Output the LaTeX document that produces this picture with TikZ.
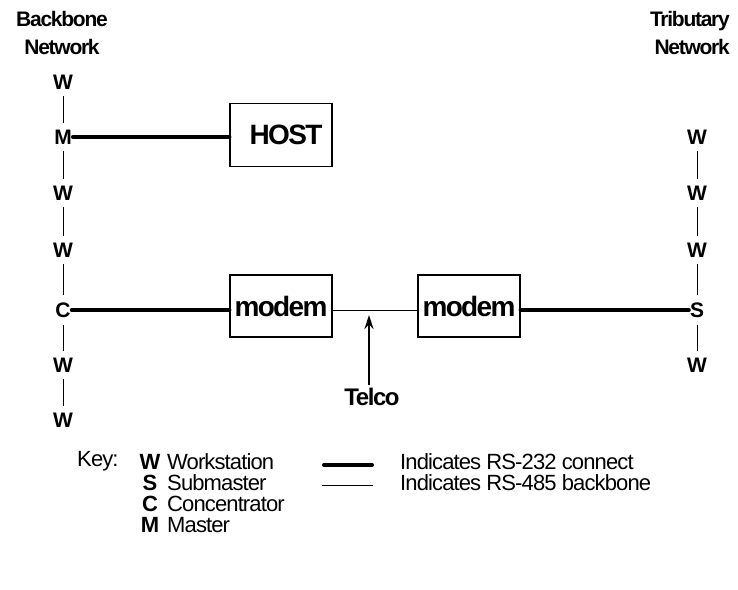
\documentclass[tikz,border=0pt]{standalone}
\usepackage{fontspec}
\setmainfont{Liberation Sans}[LetterSpace=-6]
\usetikzlibrary{arrows.meta}
\begin{document}
\begin{tikzpicture}[x=1pt,y=-1pt,
  lbl/.style={font=\fontsize{21}{21}\selectfont\bfseries,inner sep=1pt},
  head/.style={font=\fontsize{21}{28}\selectfont\bfseries,inner sep=0pt},
  keytxt/.style={font={\fontsize{22}{22}\selectfont\addfontfeatures{LetterSpace=-4}},
    inner sep=0pt,anchor=west},
  keysym/.style={font=\fontsize{22}{22}\selectfont\bfseries,inner sep=0pt},
  box/.style={draw,line width=1.2pt,minimum width=102pt,minimum height=62pt,
    inner sep=0pt,font=\fontsize{28}{28}\selectfont\bfseries},
  rs232/.style={line width=4pt,line cap=round},
  rs485/.style={line width=1pt},
  bar/.style={line width=0.8pt,shorten <=6pt,shorten >=6pt}]
  \useasboundingbox (0,0) rectangle (738,589);

  % headings
  \node[head,align=center] (bbnet) at (62,33) {Backbone\\Network};
  \node[head,align=right,anchor=east] (trnet) at (730,33) {Tributary\\Network};

  % backbone column
  \node[lbl] (bw1) at (63,82) {W};
  \node[lbl] (bm) at (63,137) {M};
  \node[lbl] (bw2) at (63,193) {W};
  \node[lbl] (bw3) at (63,250) {W};
  \node[lbl] (bc) at (63,310) {C};
  \node[lbl] (bw4) at (63,365) {W};
  \node[lbl] (bw5) at (63,420) {W};
  \draw[bar] (bw1) -- (bm);
  \draw[bar] (bm) -- (bw2);
  \draw[bar] (bw2) -- (bw3);
  \draw[bar] (bw3) -- (bc);
  \draw[bar] (bc) -- (bw4);
  \draw[bar] (bw4) -- (bw5);

  % tributary column
  \node[lbl] (tw1) at (697,137) {W};
  \node[lbl] (tw2) at (697,193) {W};
  \node[lbl] (tw3) at (697,250) {W};
  \node[lbl] (ts) at (697,310) {S};
  \node[lbl] (tw4) at (697,365) {W};
  \draw[bar] (tw1) -- (tw2);
  \draw[bar] (tw2) -- (tw3);
  \draw[bar] (tw3) -- (ts);
  \draw[bar] (ts) -- (tw4);

  % host and modems
  \node[box,minimum height=63pt] (host) at (281,135) {\hspace{10pt}HOST};
  \node[box] (modem1) at (281,306) {modem};
  \node[box] (modem2) at (469,306) {modem};
  \draw[rs232] (bm) -- (bm -| host.west);
  \draw[rs232] (bc) -- (bc -| modem1.west);
  \draw[rs485] (modem1.east |- bc) -- (modem2.west |- bc);
  \draw[rs232] (modem2.east |- ts) -- (ts);

  % telco
  \node[font=\fontsize{24}{24}\selectfont\bfseries] (telco) at (372,397) {Telco};
  \coordinate (tap) at (369,312);
  \draw[line width=1.3pt,-{Stealth[length=14pt,width=9pt]},shorten >=3pt] (telco.north -| tap) -- (tap);

  % key
  \node[keytxt] (key) at (77,461) {Key:};
  \node[keysym] (kw) at (150,462) {W};
  \node[keysym] (ks) at (150,483) {S};
  \node[keysym] (kc) at (150,504) {C};
  \node[keysym] (km) at (150,525) {M};
  \node[keytxt] (kwtxt) at (167,462) {Workstation};
  \node[keytxt] (kstxt) at (167,483) {Submaster};
  \node[keytxt] (kctxt) at (167,504) {Concentrator};
  \node[keytxt] (kmtxt) at (167,525) {Master};
  \node[keytxt] (k232) at (400,462) {Indicates RS-232 connect};
  \node[keytxt] (k485) at (400,483) {Indicates RS-485 backbone};
  \coordinate (k232a) at (324,465);
  \coordinate (k485a) at (322,485);
  \draw[rs232] (k232a) -- ++(48,0);
  \draw[rs485] (k485a) -- ++(51,0);
\end{tikzpicture}
\end{document}
